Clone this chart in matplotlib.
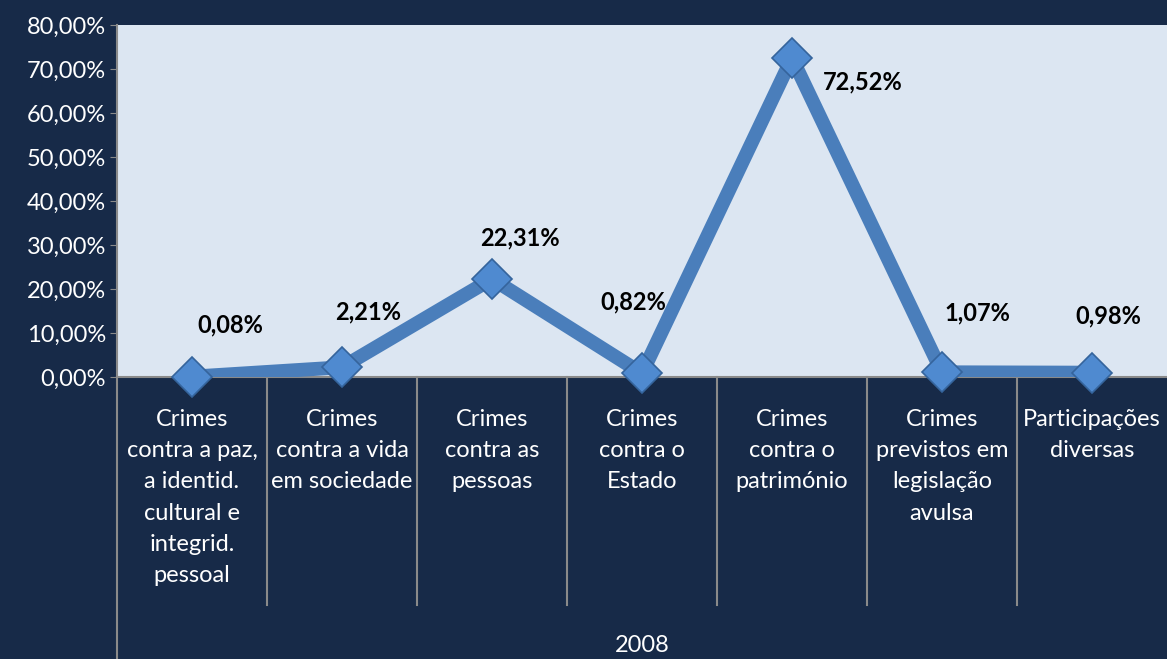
import matplotlib.pyplot as plt
import numpy as np

categories = [
    "Crimes\ncontra a paz,\na identid.\ncultural e\nintegrid.\npessoal",
    "Crimes\ncontra a vida\nem sociedade",
    "Crimes\ncontra as\npessoas",
    "Crimes\ncontra o\nEstado",
    "Crimes\ncontra o\npatrimónio",
    "Crimes\nprevistos em\nlegislação\navulsa",
    "Participações\ndiversas",
]
values = [0.08, 2.21, 22.31, 0.82, 72.52, 1.07, 0.98]
year_label = "2008"
yticks = np.arange(0, 81, 10)

# label offsets from each point, in pixels
label_offsets = [(38, 52), (26, 55), (28, 41), (-9, 71), (71, -24), (35, 59), (16, 57)]

bg = "#172a48"
plt.rcParams['font.family'] = ['Lato', 'DejaVu Sans']

fig = plt.figure(figsize=(11.67, 6.59), dpi=100, facecolor=bg)
ax = fig.add_axes([117 / 1167, (659 - 377) / 659, 1050 / 1167, 352 / 659])
ax.set_facecolor("#dce6f2")

x = np.arange(len(values))
ax.plot(x, values, color="#4a7ebb", lw=10, solid_joinstyle="miter", zorder=3)
ax.plot(x, values, ls="none", marker="D", ms=20, mfc="#4f8ad0", mec="#35649c", mew=1.2,
        zorder=4, clip_on=False)

def fmt(v):
    return f"{v:.2f}".replace(".", ",") + "%"

for xi, v, (dx, dy) in zip(x, values, label_offsets):
    ax.annotate(fmt(v), (xi, v), xytext=(dx * 0.72, dy * 0.72), textcoords="offset points",
                ha="center", va="center", fontsize=17, fontweight="bold", color="black",
                zorder=5)

ax.set_xlim(-0.5, len(values) - 0.5)
ax.set_ylim(0, 80)
ax.set_yticks(yticks)
ax.set_yticklabels([f"{t},00%" for t in yticks])
ax.tick_params(axis="y", colors="#8a8a8a", labelcolor="white", labelsize=17, length=5, pad=3)
ax.set_xticks([])

for s in ["top", "right"]:
    ax.spines[s].set_visible(False)
for s in ["left", "bottom"]:
    ax.spines[s].set_color("#8a8a8a")
    ax.spines[s].set_linewidth(1.5)

trans = ax.get_xaxis_transform()
for k in range(1, len(values)):
    ax.plot([k - 0.5, k - 0.5], [0, -228 / 352], transform=trans, color="#8a8a8a",
            lw=1.5, clip_on=False)
ax.plot([-0.5, -0.5], [0, -282 / 352], transform=trans, color="#8a8a8a", lw=1.5,
        clip_on=False)

for xi, lab in zip(x, categories):
    ax.text(xi, -32 / 352, lab, transform=trans, ha="center", va="top", color="white",
            fontsize=17, linespacing=1.6)

ax.text(0.5, -268 / 352, year_label, transform=ax.transAxes, ha="center", va="center",
        color="white", fontsize=17)

fig.savefig("out.png", dpi=100, facecolor=bg)
